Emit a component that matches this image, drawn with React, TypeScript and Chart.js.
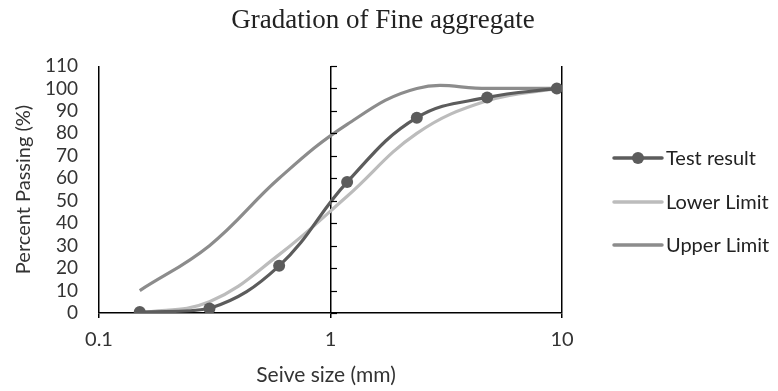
import React, { useEffect, useRef } from "react";
import { Chart, registerables } from "chart.js";

Chart.register(...registerables);

const sieveSizes = [0.15, 0.3, 0.6, 1.18, 2.36, 4.75, 9.5];
const testResult = [0.4, 2, 21, 58.3, 87, 96, 100];
const lowerLimit = [0, 5, 26, 52, 80, 94.5, 100];
const upperLimit = [10, 30, 60, 84, 100, 100, 100];
const xTicks = [0.1, 1, 10];
const seriesNames = ["Test result", "Lower Limit", "Upper Limit"];
const seriesColors = ["#5c5c5c", "#bcbcbc", "#8c8c8c"];
const chartTitle = "Gradation of Fine aggregate";
const xTitle = "Seive size (mm)";
const yTitle = "Percent Passing (%)";

const SANS = "Lato, 'Open Sans', sans-serif";

const W = 778;
const H = 391;

export default function App() {
  const ref = useRef<HTMLCanvasElement | null>(null);

  useEffect(() => {
    const canvas = ref.current;
    if (!canvas) return;

    const decor = {
      id: "decor",
      afterDraw(chart: any) {
        const ctx = chart.ctx;
        const ca = chart.chartArea;
        const xs = chart.scales.x;
        const ys = chart.scales.y;
        ctx.save();
        // y tick marks on the axis at x = 1
        const x1 = Math.round(xs.getPixelForValue(1));
        ctx.strokeStyle = "#000";
        ctx.lineWidth = 1.2;
        for (let v = 0; v <= 110; v += 10) {
          const py = Math.round(ys.getPixelForValue(v)) + 0.5;
          ctx.beginPath();
          ctx.moveTo(x1, py);
          ctx.lineTo(x1 + 6, py);
          ctx.stroke();
        }
        // title
        ctx.fillStyle = "#222";
        ctx.font = "27px 'Liberation Serif', 'Times New Roman', serif";
        ctx.textAlign = "center";
        ctx.textBaseline = "middle";
        ctx.fillText(chartTitle, 383, 21);
        // axis titles
        ctx.font = "21px " + SANS;
        ctx.fillStyle = "#333";
        ctx.fillText(xTitle, 326, 375);
        ctx.font = "20px " + SANS;
        ctx.save();
        ctx.translate(24, (ca.top + ca.bottom) / 2);
        ctx.rotate(-Math.PI / 2);
        ctx.fillText(yTitle, 0, 0);
        ctx.restore();
        // legend
        const rows = [158, 202, 245];
        ctx.textAlign = "left";
        ctx.font = "20px " + SANS;
        rows.forEach((ry, i) => {
          ctx.strokeStyle = seriesColors[i];
          ctx.lineWidth = 3.5;
          ctx.lineCap = "round";
          ctx.beginPath();
          ctx.moveTo(614, ry);
          ctx.lineTo(662, ry);
          ctx.stroke();
          if (i === 0) {
            ctx.fillStyle = seriesColors[0];
            ctx.beginPath();
            ctx.arc(638, ry, 6, 0, Math.PI * 2);
            ctx.fill();
          }
          ctx.fillStyle = "#222";
          ctx.fillText(seriesNames[i], 666, ry + 1);
        });
        ctx.restore();
      },
    };

    const mk = (arr: number[]) => sieveSizes.map((x, i) => ({ x, y: arr[i] }));

    const chart = new Chart(canvas, {
      type: "line",
      data: {
        datasets: [
          {
            label: seriesNames[2],
            data: mk(upperLimit),
            borderColor: seriesColors[2],
            borderWidth: 3.2,
            pointRadius: 0,
            tension: 0.4,
            order: 3,
          },
          {
            label: seriesNames[1],
            data: mk(lowerLimit),
            borderColor: seriesColors[1],
            borderWidth: 3.2,
            pointRadius: 0,
            tension: 0.4,
            order: 2,
          },
          {
            label: seriesNames[0],
            data: mk(testResult),
            borderColor: seriesColors[0],
            backgroundColor: seriesColors[0],
            borderWidth: 3.2,
            pointRadius: 6,
            pointBorderWidth: 0,
            tension: 0.4,
            order: 1,
          },
        ],
      },
      options: {
        responsive: false,
        animation: false,
        layout: { padding: { top: 66, right: 216, left: 0, bottom: 0 } },
        plugins: {
          legend: { display: false },
          title: { display: false },
          tooltip: { enabled: false },
        },
        scales: {
          x: {
            type: "logarithmic",
            min: 0.1,
            max: 10,
            afterBuildTicks: (s: any) => {
              s.ticks = xTicks.map((v) => ({ value: v }));
            },
            afterFit: (s: any) => {
              s.height = 78;
            },
            grid: {
              color: "#000",
              lineWidth: 1.5,
              drawOnChartArea: true,
              drawTicks: true,
              tickLength: 5,
            },
            border: { display: true, color: "#000", width: 1.5 },
            ticks: {
              autoSkip: false,
              maxRotation: 0,
              padding: 10,
              color: "#333",
              font: { family: SANS, size: 20 },
              callback: (v: any) => String(v),
            },
          },
          y: {
            min: 0,
            max: 110,
            afterFit: (s: any) => {
              s.width = 99;
            },
            grid: { display: false, drawTicks: false },
            border: { display: false },
            ticks: {
              stepSize: 10,
              autoSkip: false,
              padding: 21,
              color: "#333",
              font: { family: SANS, size: 19 },
            },
          },
        },
      },
      plugins: [decor],
    } as any);

    return () => chart.destroy();
  }, []);

  return (
    <div style={{ position: "absolute", left: 0, top: 0, width: W, height: H, background: "#fff" }}>
      <canvas ref={ref} width={W} height={H} style={{ width: W, height: H, display: "block" }} />
    </div>
  );
}
